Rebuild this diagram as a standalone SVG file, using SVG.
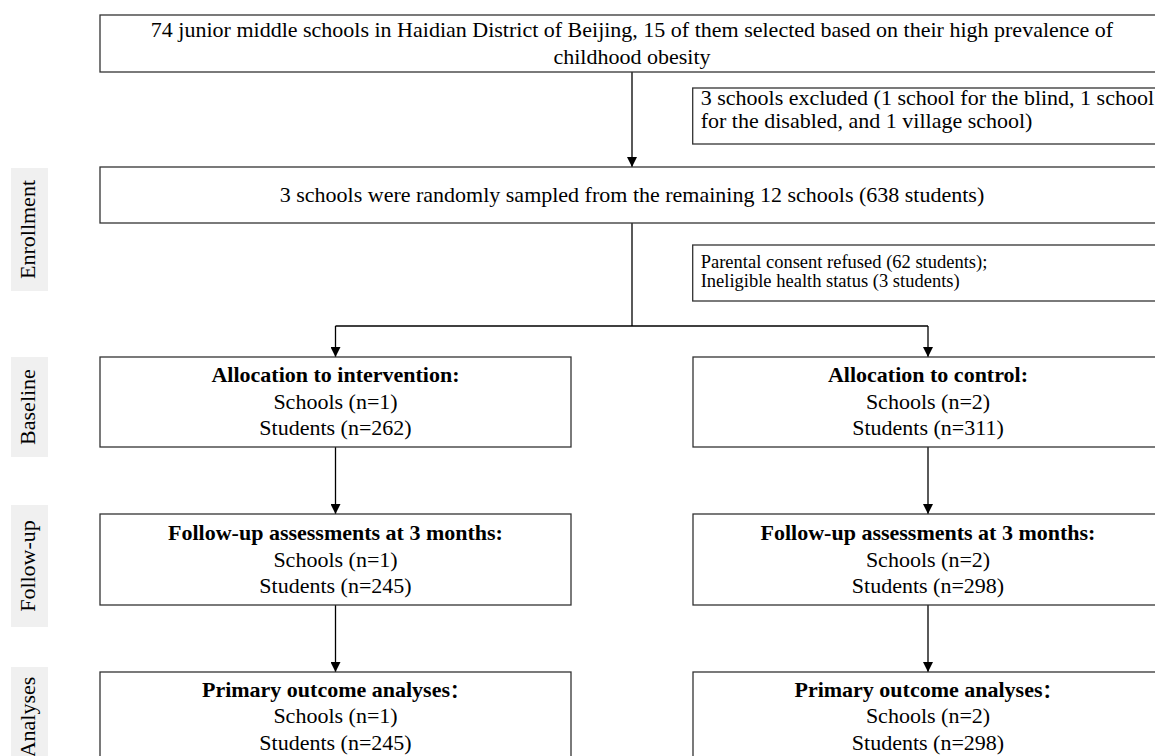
<svg xmlns="http://www.w3.org/2000/svg" width="1155" height="756" viewBox="0 0 1155 756">
<defs>
<marker id="arr" viewBox="0 0 10 10" refX="10" refY="5" markerWidth="11" markerHeight="10" markerUnits="userSpaceOnUse" orient="auto">
<path d="M0,0 L10,5 L0,10 z" fill="#000"/>
</marker>
<style>
.box{fill:#fff;stroke:#333;stroke-width:1.3}
.lab{fill:#f0f0f0;stroke:none}
.t{font-family:"Liberation Serif","Times New Roman",serif;font-size:22px;fill:#000;text-anchor:middle}
.b{font-weight:bold}
.s{font-family:"Liberation Serif","Times New Roman",serif;font-size:18.5px;fill:#000}
.l{font-family:"Liberation Serif","Times New Roman",serif;font-size:22px;fill:#000}
.c{stroke:#000;stroke-width:1.3;fill:none}
.cj{font-family:"Noto Sans CJK SC","Liberation Serif",sans-serif;font-size:19px}
</style>
</defs>
<rect width="1155" height="756" fill="#fff"/>

<g id="labels">
<g id="lab-enrollment"><rect class="lab" x="11" y="168" width="37" height="123"/><text class="t" transform="translate(35,229.5) rotate(-90)">Enrollment</text></g>
<g id="lab-baseline"><rect class="lab" x="11" y="357" width="37" height="100"/><text class="t" transform="translate(35,407) rotate(-90)">Baseline</text></g>
<g id="lab-followup"><rect class="lab" x="11" y="505" width="37" height="122"/><text class="t" transform="translate(35,566) rotate(-90)">Follow-up</text></g>
<g id="lab-analyses"><rect class="lab" x="11" y="667" width="37" height="110"/><text class="t" transform="translate(35,717) rotate(-90)">Analyses</text></g>
</g>

<g id="connectors">
<line class="c" x1="632" y1="72" x2="632" y2="167" marker-end="url(#arr)"/>
<polyline class="c" points="632,223 632,326"/>
<polyline class="c" points="335.5,326 928,326"/>
<line class="c" x1="335.5" y1="326" x2="335.5" y2="357" marker-end="url(#arr)"/>
<line class="c" x1="928" y1="326" x2="928" y2="357" marker-end="url(#arr)"/>
<line class="c" x1="335.5" y1="447" x2="335.5" y2="514" marker-end="url(#arr)"/>
<line class="c" x1="928" y1="447" x2="928" y2="514" marker-end="url(#arr)"/>
<line class="c" x1="335.5" y1="605" x2="335.5" y2="672" marker-end="url(#arr)"/>
<line class="c" x1="928" y1="605" x2="928" y2="672" marker-end="url(#arr)"/>
</g>

<g id="n-top">
<rect class="box" x="100" y="15" width="1064" height="57"/>
<text class="t" x="632" y="37">74 junior middle schools in Haidian District of Beijing, 15 of them selected based on their high prevalence of</text>
<text class="t" x="632" y="64">childhood obesity</text>
</g>

<g id="n-excl1">
<rect class="box" x="692.7" y="88" width="480" height="56"/>
<text class="l" x="700.7" y="105">3 schools excluded (1 school for the blind, 1 school</text>
<text class="l" x="700.7" y="128">for the disabled, and 1 village school)</text>
</g>

<g id="n-sample">
<rect class="box" x="100" y="167" width="1064" height="56"/>
<text class="t" x="632" y="202">3 schools were randomly sampled from the remaining 12 schools (638 students)</text>
</g>

<g id="n-excl2">
<rect class="box" x="692.7" y="245" width="480" height="56"/>
<text class="s" x="700.7" y="268">Parental consent refused (62 students);</text>
<text class="s" x="700.7" y="287">Ineligible health status (3 students)</text>
</g>

<g id="n-int-alloc">
<rect class="box" x="100" y="357" width="471" height="90"/>
<text class="t b" x="335.5" y="382">Allocation to intervention:</text>
<text class="t" x="335.5" y="409">Schools (n=1)</text>
<text class="t" x="335.5" y="435">Students (n=262)</text>
</g>

<g id="n-ctl-alloc">
<rect class="box" x="693" y="357" width="471" height="90"/>
<text class="t b" x="928" y="382">Allocation to control:</text>
<text class="t" x="928" y="409">Schools (n=2)</text>
<text class="t" x="928" y="435">Students (n=311)</text>
</g>

<g id="n-int-fu">
<rect class="box" x="100" y="514" width="471" height="91"/>
<text class="t b" x="335.5" y="540">Follow-up assessments at 3 months:</text>
<text class="t" x="335.5" y="567">Schools (n=1)</text>
<text class="t" x="335.5" y="593">Students (n=245)</text>
</g>

<g id="n-ctl-fu">
<rect class="box" x="693" y="514" width="471" height="91"/>
<text class="t b" x="928" y="540">Follow-up assessments at 3 months:</text>
<text class="t" x="928" y="567">Schools (n=2)</text>
<text class="t" x="928" y="593">Students (n=298)</text>
</g>

<g id="n-int-an">
<rect class="box" x="100" y="672" width="471" height="95"/>
<text class="t b" x="335.5" y="697">Primary outcome analyses<tspan class="cj" dy="1">：</tspan></text>
<text class="t" x="335.5" y="723">Schools (n=1)</text>
<text class="t" x="335.5" y="750">Students (n=245)</text>
</g>

<g id="n-ctl-an">
<rect class="box" x="693" y="672" width="471" height="95"/>
<text class="t b" x="928" y="697">Primary outcome analyses<tspan class="cj" dy="1">：</tspan></text>
<text class="t" x="928" y="723">Schools (n=2)</text>
<text class="t" x="928" y="750">Students (n=298)</text>
</g>
</svg>
